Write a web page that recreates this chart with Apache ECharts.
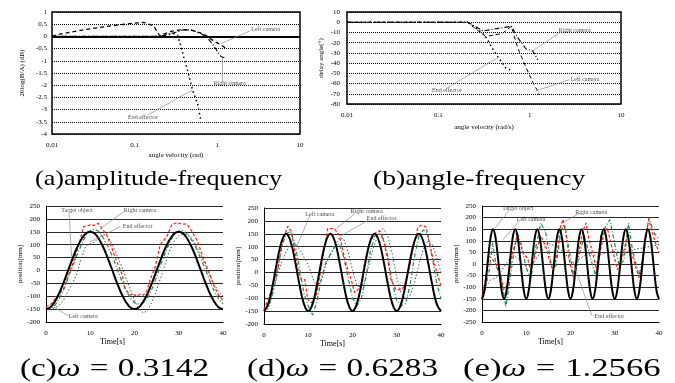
<!DOCTYPE html>
<html>
<head>
<meta charset="utf-8">
<script src="https://cdn.jsdelivr.net/npm/echarts@6.0.0/dist/echarts.min.js"></script>
<style>html,body{margin:0;padding:0;background:#fff}#chart{width:675px;height:383px}</style>
</head>
<body>
<div id="chart"></div>
<script>
// (a) amplitude-frequency, [rad/s, dB]
const ampLeft = [[0.01,0],[0.0115,0.07],[0.024,0.27],[0.051,0.43],[0.098,0.54],[0.13,0.57],[0.17,0.43],[0.2,0.03],[0.27,0.2],[0.36,0.27],[0.48,0.26],[0.63,0.14],[0.76,0],[0.91,-0.2],[1.1,-0.34],[1.26,-0.48]];
const ampRight = [[0.01,0],[0.1,0],[0.2,0],[0.3,0.15],[0.4,0.28],[0.5,0.25],[0.63,0.12],[0.76,-0.05],[0.91,-0.4],[1.1,-0.82],[1.26,-0.89]];
const ampEnd = [[0.01,0],[0.1,0],[0.2,0],[0.3,0.12],[0.33,0.05],[0.37,-0.5],[0.4,-0.96],[0.44,-1.44],[0.5,-2.19],[0.58,-2.8],[0.63,-3.42]];
const ampNotes = [['Left camera',3.85,0.275],['Right camera',1.41,-1.94],['End effector',0.126,-3.33]];
const ampPointers = [[2.5,0.23,1.1,-0.3],[1.15,-1.87,1.15,-0.89],[0.145,-3.22,0.5,-2.19]];

// (b) angle-frequency, [rad/s, deg]
const angLeft = [[0.01,0],[0.1,0],[0.21,0],[0.26,-7],[0.33,-14],[0.5,-11],[0.63,-4],[0.74,-25],[0.91,-44],[1.1,-60],[1.2,-66],[1.26,-71]];
const angRight = [[0.01,0],[0.1,0],[0.21,0],[0.31,-8.6],[0.45,-6],[0.63,-4],[0.74,-15],[0.91,-26],[1.08,-28],[1.23,-37]];
const angEnd = [[0.01,0],[0.1,0],[0.21,0],[0.3,-10],[0.34,-16],[0.38,-24],[0.45,-34],[0.55,-45],[0.63,-47]];
const angNotes = [['Right camera',3.1,-7.8],['End effector',0.124,-67],['Left camera',4.04,-55.6]];
const angPointers = [[2.12,-10.4,1.08,-28],[0.123,-64.7,0.45,-34.6],[2.72,-56.3,1.18,-67]];

// time axes
const time1 = [0,1,2,3,4,5,6,7,8,9,10,11,12,13,14,15,16,17,18,19,20,21,22,23,24,25,26,27,28,29,30,31,32,33,34,35,36,37,38,39,40];
const timeHalf = [0,0.5,1,1.5,2,2.5,3,3.5,4,4.5,5,5.5,6,6.5,7,7.5,8,8.5,9,9.5,10,10.5,11,11.5,12,12.5,13,13.5,14,14.5,15,15.5,16,16.5,17,17.5,18,18.5,19,19.5,20,20.5,21,21.5,22,22.5,23,23.5,24,24.5,25,25.5,26,26.5,27,27.5,28,28.5,29,29.5,30,30.5,31,31.5,32,32.5,33,33.5,34,34.5,35,35.5,36,36.5,37,37.5,38,38.5,39,39.5,40];

// (c) omega = 0.3142
const targetC = [-150,-143,-121,-88,-46,0,46,88,121,143,150,143,121,88,46,0,-46,-88,-121,-143,-150,-143,-121,-88,-46,0,46,88,121,143,150,143,121,88,46,0,-46,-88,-121,-143,-150];
const rightC = [[0,-141],[0.9,-135],[2.4,-103],[4,-70],[5.4,-5],[6.2,34],[7.3,92],[8.5,170],[9.2,172],[10,177],[10.8,175],[11.8,183],[12.6,164],[13.7,138],[14.9,86],[16,34],[17.1,-12],[17.9,-70],[19,-96],[19.6,-90],[20.5,-100],[21.3,-92],[22,-96],[22.8,-77],[23.5,-38],[24.7,14],[25.8,99],[27.3,131],[28.4,177],[29.6,186],[30.6,180],[31.8,180],[33,151],[34.1,118],[35.6,47],[36.8,-5],[37.9,-57],[39,-96],[40,-116]];
const leftC = [-150,-148,-135,-110,-75,-30,15,60,100,135,155,160,150,125,95,55,10,-35,-75,-105,-125,-130,-125,-105,-70,-25,25,70,110,140,152,155,140,115,85,45,5,-40,-80,-110,-130];
const endC = [-150,-150,-145,-135,-115,-80,-50,-10,50,95,105,110,130,140,130,100,60,20,-25,-70,-115,-150,-165,-155,-120,-75,-25,30,80,115,135,140,140,125,95,60,20,-20,-55,-80,-100];
const notesC = [['Target object',7.0,234],['Right camera',21.2,234],['End effector',20.7,172],['Left camera',8.4,-177]];
const pointersC = [[5.2,226,5.8,45],[17.5,228,12.2,160],[16.8,170,10,111],[5.05,-176,1.65,-141]];

// (d) omega = 0.6283
const targetD = [-150,-121,-46,46,121,150,121,46,-46,-121,-150,-121,-46,46,121,150,121,46,-46,-121,-150,-121,-46,46,121,150,121,46,-46,-121,-150,-121,-46,46,121,150,121,46,-46,-121,-150];
const rightD = [[0,-144],[0.9,-105],[2,-54],[3.2,23],[4.3,132],[5.4,179],[6.2,157],[6.9,87],[7.7,10],[8.4,-28],[9.2,-28],[9.9,-105],[10.7,-118],[11.8,-92],[12.6,-15],[13.7,100],[14.4,170],[15.9,170],[17,145],[17.8,87],[18.6,29],[19.7,-28],[20.5,-79],[21.2,-67],[22,-41],[22.7,36],[23.8,113],[25,151],[26.1,162],[26.8,138],[28,49],[28.7,-28],[29.8,-67],[31,-67],[31.7,-54],[32.9,23],[33.6,87],[34.7,170],[35.5,183],[36.6,177],[37.7,87],[38.9,10],[39.8,-41],[40,-60]];
const leftD = [-150,-130,-80,0,100,150,160,110,20,-80,-130,-165,-110,-20,40,70,100,110,60,-20,-100,-130,-100,-20,80,140,150,130,60,-40,-110,-130,-120,-50,60,140,165,150,60,-40,-100];
const endD = [-150,-140,-80,-10,40,80,110,115,90,60,30,-20,-60,-30,30,70,100,135,130,80,10,-50,-60,-20,50,110,155,170,140,70,-20,-80,-100,-90,-40,30,90,120,110,60,0];
const notesD = [['Target object',8.5,266],['Left camera',12.6,224],['Right camera',23.2,235],['End effector',26.6,209]];
const pointersD = [[6.5,260,5.1,179],[10.4,222,7.4,101],[20.5,227,16.4,172],[23.7,204,17.2,140]];

// (e) omega = 1.2566
const targetE = [-150,-121,-46,46,121,150,121,46,-46,-121,-150,-121,-46,46,121,150,121,46,-46,-121,-150,-121,-46,46,121,150,121,46,-46,-121,-150,-121,-46,46,121,150,121,46,-46,-121,-150,-121,-46,46,121,150,121,46,-46,-121,-150,-121,-46,46,121,150,121,46,-46,-121,-150,-121,-46,46,121,150,121,46,-46,-121,-150,-121,-46,46,121,150,121,46,-46,-121,-150];
const rightE = [[0,-140],[0.9,-53],[1.65,33],[2.4,19],[3.2,-3],[3.9,-32],[5,-111],[5.8,-89],[6.9,48],[8,120],[8.8,76],[9.5,40],[10.3,26],[11,-32],[11.8,26],[12.6,76],[13.3,120],[14.4,76],[15.2,19],[16.1,-32],[17.1,62],[17.8,163],[18.3,192],[18.9,148],[19.7,19],[20.5,-53],[21.6,26],[22.7,134],[23.5,177],[24.2,105],[25,48],[25.9,-24],[26.8,62],[27.6,134],[28.3,155],[29.5,62],[30.6,-24],[31.7,26],[32.9,127],[33.6,62],[34.7,-10],[35.5,-60],[36.2,-10],[37,120],[37.7,192],[38.5,134],[39.2,91],[40,48]];
const leftE = [[0,-150],[0.9,-90],[1.65,-24],[2.4,91],[3.2,-10],[4.3,-53],[5.4,-185],[6.2,-82],[7.3,62],[8,134],[8.8,91],[9.9,-10],[11,-68],[12.2,76],[13.3,177],[14.4,134],[15.6,4],[16.7,-10],[17.8,134],[18.5,170],[19.7,62],[20.8,-68],[21.9,33],[23.1,120],[24.2,48],[25.7,-53],[26.8,120],[28,163],[28.9,192],[29.8,105],[31,-10],[32.1,19],[33.1,177],[34,62],[35.5,-53],[36.6,62],[37.7,199],[38.9,134],[40,105]];
const endE = [[0,-154],[0.9,-97],[2,-68],[3.2,-60],[4.3,-32],[5.8,12],[6.9,40],[8.4,19],[9.9,-10],[11.4,-3],[12.9,40],[14.8,91],[16.7,76],[18.6,48],[20.5,4],[22.3,26],[24.2,48],[26.1,33],[28,48],[30.2,55],[32.1,48],[34,62],[36.2,69],[38.1,76],[40,84]];
const notesE = [['Target object',8.1,240],['Left camera',11.1,190],['Right camera',24.7,221],['End effector',28.8,-228]];
const pointersE = [[6.2,233,2.9,154],[8.5,186,4.7,104],[22.1,219,18.7,183],[24.8,-221,20.5,11]];

const serif = '"Liberation Serif", "DejaVu Serif", serif';
const pairs = (xs, ys) => xs.map((x, i) => [x, ys[i]]);

function curve(name, data, ax, color, type, width, smooth) {
  return { name, type: 'line', xAxisIndex: ax, yAxisIndex: ax, data, symbol: 'none', showSymbol: false,
    smooth: smooth || false, lineStyle: { color, type, width }, z: 3 };
}

function notes(ax, list, ptrs) {
  return {
    type: 'scatter', xAxisIndex: ax, yAxisIndex: ax, symbolSize: 0, silent: true, z: 6,
    data: list.map(n => ({ name: n[0], value: [n[1], n[2]] })),
    label: { show: true, position: 'inside', formatter: '{b}', fontFamily: serif, fontSize: 6, color: '#222' },
    markLine: {
      silent: true, symbol: ['none', 'none'], animation: false,
      label: { show: false }, emphasis: { disabled: true },
      lineStyle: { color: '#8a8a8a', width: 0.7, type: 'solid' },
      data: ptrs.map(p => [{ coord: [p[0], p[1]] }, { coord: [p[2], p[3]] }])
    }
  };
}

function logX(grid, name, gap) {
  return { type: 'log', logBase: 10, gridIndex: grid, min: 0.01, max: 10,
    name, nameLocation: 'middle', nameGap: gap,
    nameTextStyle: { fontFamily: serif, fontSize: 7, color: '#000' },
    axisLine: { show: false }, axisTick: { show: false }, splitLine: { show: false },
    axisLabel: { fontFamily: serif, fontSize: 7, color: '#000', margin: 8 } };
}

function topY(grid, min, max, step, name, gap, margin) {
  return { type: 'value', gridIndex: grid, min, max, interval: step,
    name, nameLocation: 'middle', nameGap: gap, nameRotate: 90,
    nameTextStyle: { fontFamily: serif, fontSize: 7, color: '#000' },
    axisLine: { show: false }, axisTick: { show: false },
    splitLine: { lineStyle: { color: '#000', type: 'dotted', width: 1 } },
    axisLabel: { fontFamily: serif, fontSize: 7, color: '#000', margin } };
}

function timeX(grid, padRight) {
  return { type: 'value', gridIndex: grid, min: 0, max: 40, interval: 10,
    name: 'Time[s]', nameLocation: 'middle', nameGap: 13,
    nameTextStyle: { fontFamily: serif, fontSize: 8, color: '#000', padding: [0, padRight, 0, 0] },
    axisLine: { onZero: false, lineStyle: { color: '#000', width: 1 } }, axisTick: { show: false },
    splitLine: { show: false },
    axisLabel: { fontFamily: serif, fontSize: 7, color: '#000', margin: 8 } };
}

function posY(grid, min, gap) {
  return { type: 'value', gridIndex: grid, min, max: 250, interval: 50,
    name: 'position[mm]', nameLocation: 'middle', nameGap: gap, nameRotate: 90,
    nameTextStyle: { fontFamily: serif, fontSize: 7, color: '#000' },
    axisLine: { show: true, lineStyle: { color: '#000', width: 1 } }, axisTick: { show: false },
    splitLine: { lineStyle: { color: '#111', width: 0.9 } },
    axisLabel: { fontFamily: serif, fontSize: 7, color: '#000', margin: 6 } };
}

// captions: the source figure is stretched sideways, so the text is widened with scaleX
const capFont = 'Liberation Serif';
function caption(text, x, y, sx) {
  return { type: 'text', x, y, scaleX: sx, silent: true,
    style: { text, fontFamily: capFont, fontSize: 22, fontWeight: 'normal', fill: '#000', align: 'left', verticalAlign: 'top' } };
}

function mathCaption(label, value, x, y, sx) {
  const base = { fontFamily: capFont, fontSize: 25, fontWeight: 'normal', fill: '#000' };
  return { type: 'text', x, y, scaleX: sx, silent: true,
    style: { text: '{n|' + label + '}{w|ω}{e|=}{n|' + value + '}', fontFamily: capFont, fontSize: 25,
      align: 'left', verticalAlign: 'top',
      rich: {
        n: base,
        w: Object.assign({}, base, { fontStyle: 'italic' }),
        e: Object.assign({}, base, { padding: [0, 7, 0, 7] })
      } } };
}

const chart = echarts.init(document.getElementById('chart'), null, { renderer: 'canvas' });

const zeroLine = {
  silent: true, symbol: ['none', 'none'], animation: false, label: { show: false },
  lineStyle: { color: '#000', width: 2, type: 'solid' }, data: [{ yAxis: 0 }]
};

const greenC = '#1f8a4c', redC = '#ff1a1a', grayC = '#555';

chart.setOption({
  animation: false,
  backgroundColor: '#fff',
  graphic: [
    caption('(a)amplitude-frequency', 35, 168, 1.19),
    caption('(b)angle-frequency', 373, 168, 1.26),
    mathCaption('(c)', '0.3142', 20, 357, 1.33),
    mathCaption('(d)', '0.6283', 247, 357, 1.33),
    mathCaption('(e)', '1.2566', 463, 357, 1.39)
  ],
  grid: [
    { left: 52, top: 12, width: 248, height: 122, show: true, borderColor: '#000', borderWidth: 1.5 },
    { left: 347, top: 12, width: 274, height: 92, show: true, borderColor: '#000', borderWidth: 1.5 },
    { left: 46, top: 206, width: 177, height: 116 },
    { left: 264, top: 208, width: 177, height: 116 },
    { left: 482, top: 206, width: 177, height: 116 }
  ],
  xAxis: [
    logX(0, 'angle velocity (rad)', 18),
    logX(1, 'angle velocity (rad/s)', 20),
    timeX(2, 44),
    timeX(3, 40),
    timeX(4, 40)
  ],
  yAxis: [
    topY(0, -4, 1, 0.5, '20log(B/A) (dB)', 26, 5),
    topY(1, -80, 10, 10, 'delay angle(°)', 22, 7),
    posY(2, -200, 22),
    posY(3, -200, 22),
    posY(4, -250, 22)
  ],
  series: [
    Object.assign(curve('Left camera', ampLeft, 0, '#000', [4, 3], 1.3), { markLine: zeroLine }),
    curve('Right camera', ampRight, 0, '#000', [5, 2, 1, 2], 1.1),
    curve('End effector', ampEnd, 0, '#000', [1.5, 3], 1.5),
    notes(0, ampNotes, ampPointers),

    curve('Left camera', angLeft, 1, '#000', [4, 3], 1),
    curve('Right camera', angRight, 1, '#000', [5, 2, 1, 2], 1.1),
    curve('End effector', angEnd, 1, '#000', [1.5, 3], 1.5),
    notes(1, angNotes, angPointers),

    curve('End effector', pairs(time1, endC), 2, grayC, [1.5, 2], 1),
    curve('Left camera', pairs(time1, leftC), 2, greenC, [4, 2, 1, 2], 1.2),
    curve('Right camera', rightC, 2, redC, [3, 2], 1.2),
    curve('Target object', pairs(time1, targetC), 2, '#000', 'solid', 2, 0.4),
    notes(2, notesC, pointersC),

    curve('End effector', pairs(time1, endD), 3, grayC, [1.5, 2], 1),
    curve('Left camera', pairs(time1, leftD), 3, greenC, [4, 2, 1, 2], 1.2),
    curve('Right camera', rightD, 3, redC, [3, 2], 1.2),
    curve('Target object', pairs(time1, targetD), 3, '#000', 'solid', 2, 0.4),
    notes(3, notesD, pointersD),

    curve('End effector', endE, 4, grayC, [1.5, 2], 1),
    curve('Left camera', leftE, 4, greenC, [4, 2, 1, 2], 1.2),
    curve('Right camera', rightE, 4, redC, [3, 2], 1.2),
    curve('Target object', pairs(timeHalf, targetE), 4, '#000', 'solid', 2, 0.4),
    notes(4, notesE, pointersE)
  ]
});
</script>
</body>
</html>
